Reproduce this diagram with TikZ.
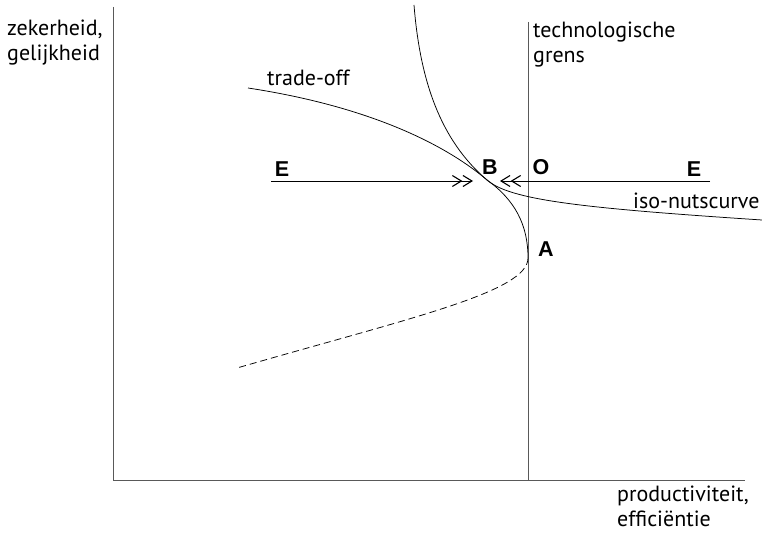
\documentclass[tikz,border=0pt]{standalone}
\usepackage{fontspec}
\setmainfont{PT Sans}
\newfontfamily\letterfont{Liberation Sans}
\usetikzlibrary{arrows.meta}
\begin{document}
\begin{tikzpicture}[x=1pt,y=-1pt,
  lbl/.style={font=\fontsize{22}{25}\selectfont, align=left, inner sep=0pt},
  ptlbl/.style={font=\letterfont\bfseries\fontsize{21.5}{21.5}\selectfont, inner sep=0pt},
  axisline/.style={draw=black!65, line width=0.9pt},
  crv/.style={line width=0.75pt},
  dbl/.style={-{Straight Barb[length=9pt,width=11pt,line width=1.1pt]Straight Barb[length=9pt,width=11pt,line width=1.1pt]}, line width=0.8pt}
]
\useasboundingbox (0,0) rectangle (762,540);
\coordinate (orig) at (113,480);
\coordinate (ytop) at (113,7);
\coordinate (xend) at (745,480);
\coordinate (ttop) at (528,22);
\coordinate (tbot) at (528,480);
\coordinate (eL) at (271,181);
\coordinate (eR) at (710,181);
\coordinate (tipL) at (473,181);
\coordinate (tipR) at (500,181);
\coordinate (B) at (487,180);
\coordinate (A) at (528,258);
\coordinate (tstart) at (248,88);
\coordinate (tend) at (237,368);
\coordinate (istart) at (414,5);
\coordinate (iend) at (762,220);

% axes
\draw[axisline] (ytop) -- (orig) -- (xend);
\draw[axisline] (ttop) -- (tbot);

% trade-off curve
\draw[crv] (tstart) .. controls (360,105) and (440,140) .. (B)
  .. controls (515,200) and (528,225) .. (A);
\draw[crv, dash pattern=on 7pt off 4pt] (A) .. controls (528,292) and (410,318) .. (tend);

% iso-utility curve
\draw[crv] (istart) .. controls (420,80) and (440,140) .. (B)
  .. controls (510,200) and (580,208) .. (iend);

% E lines
\draw[dbl] (eL) -- (tipL);
\draw[dbl] (eR) -- (tipR);

% point labels
\node[ptlbl] (lB) at (490,167.5) {B};
\node[ptlbl] (lO) at (541,167.5) {O};
\node[ptlbl] (lA) at (546,249) {A};
\node[ptlbl] (lE1) at (282,169.5) {E};
\node[ptlbl] (lE2) at (694,169.5) {E};

% text labels
\node[lbl, anchor=north west] (ylab) at (7,20) {zekerheid,\\gelijkheid};
\node[lbl, anchor=north west] (tlab) at (533,22) {technologische\\grens};
\node[lbl, anchor=west] (tolab) at (267,78) {trade-off};
\node[lbl, anchor=west] (ilab) at (633,201) {iso-nutscurve};
\node[lbl, anchor=north west] (xlab) at (617,486) {productiviteit,\\efficiëntie};
\end{tikzpicture}
\end{document}
